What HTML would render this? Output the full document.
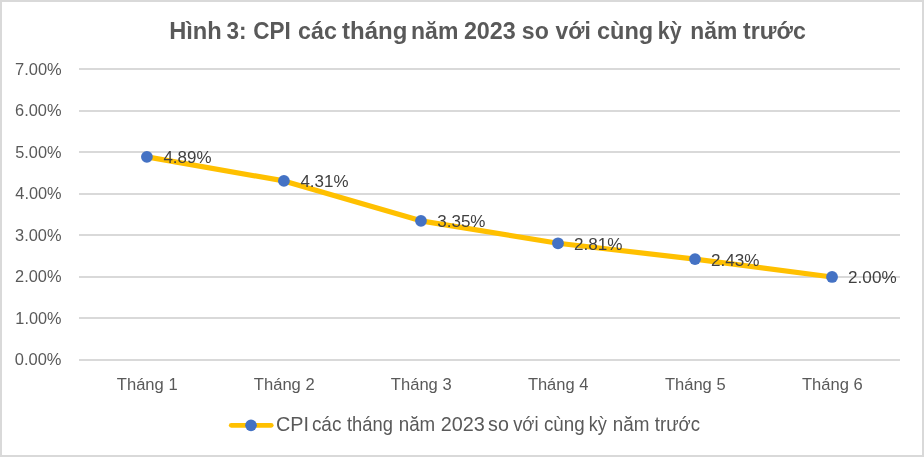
<!DOCTYPE html>
<html><head><meta charset="utf-8"><style>
html,body{margin:0;padding:0;background:#fff;}
svg{display:block;will-change:transform;}
text{font-family:"Liberation Sans",sans-serif;}
</style></head><body>
<svg width="924" height="457" viewBox="0 0 924 457">
<rect x="0" y="0" width="924" height="457" fill="#fff"/>
<rect x="1" y="1" width="922" height="455" fill="none" stroke="#d9d9d9" stroke-width="2"/>
<rect x="79" y="68" width="821" height="2" fill="#d9d9d9"/>
<rect x="79" y="110" width="821" height="2" fill="#d9d9d9"/>
<rect x="79" y="151" width="821" height="2" fill="#d9d9d9"/>
<rect x="79" y="193" width="821" height="2" fill="#d9d9d9"/>
<rect x="79" y="234" width="821" height="2" fill="#d9d9d9"/>
<rect x="79" y="276" width="821" height="2" fill="#d9d9d9"/>
<rect x="79" y="317" width="821" height="2" fill="#d9d9d9"/>
<rect x="79" y="359" width="821" height="2" fill="#d9d9d9"/>
<text transform="translate(15.01,75.00) scale(1.0044,1)" font-size="16.42" fill="#595959">7.00%</text>
<text transform="translate(15.06,116.00) scale(0.9989,1)" font-size="16.42" fill="#595959">6.00%</text>
<text transform="translate(15.25,158.00) scale(0.9949,1)" font-size="16.42" fill="#595959">5.00%</text>
<text transform="translate(15.32,199.00) scale(0.9932,1)" font-size="16.42" fill="#595959">4.00%</text>
<text transform="translate(15.08,241.00) scale(0.9986,1)" font-size="16.42" fill="#595959">3.00%</text>
<text transform="translate(15.08,282.00) scale(0.9985,1)" font-size="16.42" fill="#595959">2.00%</text>
<text transform="translate(15.36,324.00) scale(0.9902,1)" font-size="16.42" fill="#595959">1.00%</text>
<text transform="translate(14.76,365.00) scale(1.0034,1)" font-size="16.42" fill="#595959">0.00%</text>
<text transform="translate(116.78,390.00) scale(1.0102,1)" font-size="16.42" fill="#595959">Tháng 1</text>
<text transform="translate(253.81,390.00) scale(1.0105,1)" font-size="16.42" fill="#595959">Tháng 2</text>
<text transform="translate(390.85,390.00) scale(1.0088,1)" font-size="16.42" fill="#595959">Tháng 3</text>
<text transform="translate(527.88,390.00) scale(1.0047,1)" font-size="16.42" fill="#595959">Tháng 4</text>
<text transform="translate(664.91,390.00) scale(1.0083,1)" font-size="16.42" fill="#595959">Tháng 5</text>
<text transform="translate(801.94,390.00) scale(1.0088,1)" font-size="16.42" fill="#595959">Tháng 6</text>
<path d="M146.90,156.82 C146.90,156.82 283.93,180.93 283.93,180.93 C283.93,180.93 420.96,220.84 420.96,220.84 C420.96,220.84 557.99,243.28 557.99,243.28 C557.99,243.28 695.02,259.08 695.02,259.08 C695.02,259.08 832.05,276.96 832.05,276.96" fill="none" stroke="#FFC000" stroke-width="5.2" stroke-linecap="round" stroke-linejoin="round"/>
<circle cx="146.90" cy="156.82" r="5.9" fill="#4472C4"/>
<circle cx="283.93" cy="180.93" r="5.9" fill="#4472C4"/>
<circle cx="420.96" cy="220.84" r="5.9" fill="#4472C4"/>
<circle cx="557.99" cy="243.28" r="5.9" fill="#4472C4"/>
<circle cx="695.02" cy="259.08" r="5.9" fill="#4472C4"/>
<circle cx="832.05" cy="276.96" r="5.9" fill="#4472C4"/>
<text transform="translate(163.41,163.00) scale(1.0327,1)" font-size="16.42" fill="#404040">4.89%</text>
<text transform="translate(300.44,187.00) scale(1.0327,1)" font-size="16.42" fill="#404040">4.31%</text>
<text transform="translate(437.21,227.00) scale(1.0383,1)" font-size="16.42" fill="#404040">3.35%</text>
<text transform="translate(574.03,250.00) scale(1.0428,1)" font-size="16.42" fill="#404040">2.81%</text>
<text transform="translate(711.06,266.00) scale(1.0428,1)" font-size="16.42" fill="#404040">2.43%</text>
<text transform="translate(848.09,283.00) scale(1.0428,1)" font-size="16.42" fill="#404040">2.00%</text>
<text transform="translate(169.17,39.00) scale(0.9579,1)" font-size="24.71" font-weight="bold" fill="#595959">Hình</text>
<text transform="translate(226.38,39.00) scale(0.9145,1)" font-size="24.71" font-weight="bold" fill="#595959">3:</text>
<text transform="translate(253.15,39.00) scale(0.9120,1)" font-size="24.71" font-weight="bold" fill="#595959">CPI</text>
<text transform="translate(298.03,39.00) scale(0.9425,1)" font-size="24.71" font-weight="bold" fill="#595959">các</text>
<text transform="translate(342.11,39.00) scale(0.9708,1)" font-size="24.71" font-weight="bold" fill="#595959">tháng</text>
<text transform="translate(411.08,39.00) scale(0.9299,1)" font-size="24.71" font-weight="bold" fill="#595959">năm</text>
<text transform="translate(463.88,39.00) scale(0.9455,1)" font-size="24.71" font-weight="bold" fill="#595959">2023</text>
<text transform="translate(521.79,39.00) scale(0.9368,1)" font-size="24.71" font-weight="bold" fill="#595959">so</text>
<text transform="translate(555.61,39.00) scale(0.9250,1)" font-size="24.71" font-weight="bold" fill="#595959">với</text>
<text transform="translate(596.98,39.00) scale(0.9537,1)" font-size="24.71" font-weight="bold" fill="#595959">cùng</text>
<text transform="translate(657.81,39.00) scale(0.8625,1)" font-size="24.71" font-weight="bold" fill="#595959">kỳ</text>
<text transform="translate(690.29,39.00) scale(0.9236,1)" font-size="24.71" font-weight="bold" fill="#595959">năm</text>
<text transform="translate(743.02,39.00) scale(0.9360,1)" font-size="24.71" font-weight="bold" fill="#595959">trước</text>
<line x1="231.3" y1="425.3" x2="271.2" y2="425.3" stroke="#FFC000" stroke-width="4.85" stroke-linecap="round"/>
<circle cx="251" cy="425.3" r="5.85" fill="#4472C4"/>
<text transform="translate(275.89,431.00) scale(0.9879,1)" font-size="20.06" fill="#595959">CPI</text>
<text transform="translate(311.90,431.00) scale(0.9448,1)" font-size="20.06" fill="#595959">các</text>
<text transform="translate(347.02,431.00) scale(0.9146,1)" font-size="20.06" fill="#595959">tháng</text>
<text transform="translate(398.76,431.00) scale(0.9350,1)" font-size="20.06" fill="#595959">năm</text>
<text transform="translate(440.71,431.00) scale(0.9901,1)" font-size="20.06" fill="#595959">2023</text>
<text transform="translate(488.05,431.00) scale(0.9809,1)" font-size="20.06" fill="#595959">so</text>
<text transform="translate(513.13,431.00) scale(0.9193,1)" font-size="20.06" fill="#595959">với</text>
<text transform="translate(543.91,431.00) scale(0.9357,1)" font-size="20.06" fill="#595959">cùng</text>
<text transform="translate(588.69,431.00) scale(0.9023,1)" font-size="20.06" fill="#595959">kỳ</text>
<text transform="translate(612.65,431.00) scale(0.9405,1)" font-size="20.06" fill="#595959">năm</text>
<text transform="translate(654.82,431.00) scale(0.9263,1)" font-size="20.06" fill="#595959">trước</text>
</svg></body></html>
